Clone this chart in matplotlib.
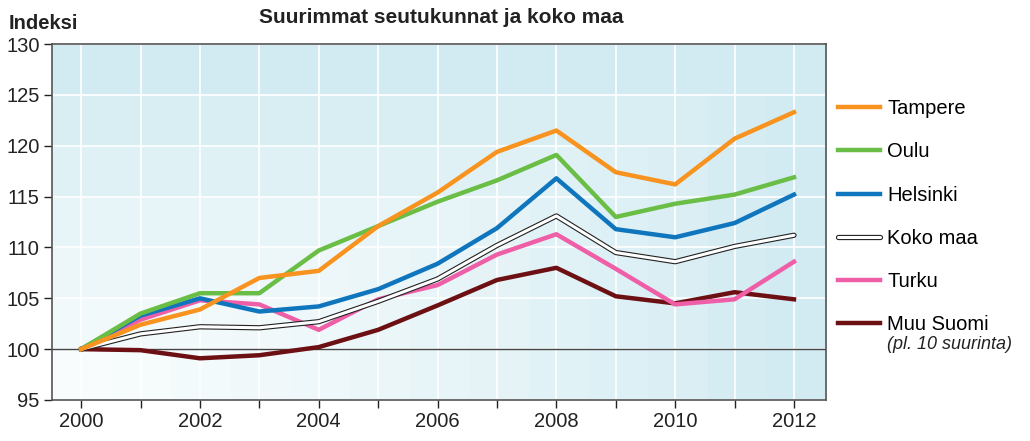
import numpy as np
import matplotlib.pyplot as plt
import matplotlib.patheffects as pe
from matplotlib.colors import LinearSegmentedColormap

plt.rcParams['font.family'] = ['Liberation Sans', 'DejaVu Sans']

years = np.arange(2000, 2013)
tampere = [100, 102.4, 103.9, 107.0, 107.7, 112.1, 115.4, 119.4, 121.5, 117.4, 116.2, 120.7, 123.3]
oulu = [100, 103.5, 105.5, 105.5, 109.7, 112.1, 114.5, 116.6, 119.1, 113.0, 114.3, 115.2, 116.9]
helsinki = [100, 103.3, 105.0, 103.7, 104.2, 105.9, 108.4, 111.9, 116.8, 111.8, 111.0, 112.4, 115.2]
koko_maa = [100, 101.5, 102.2, 102.1, 102.7, 104.7, 106.9, 110.2, 113.1, 109.5, 108.6, 110.1, 111.2]
turku = [100, 102.9, 104.8, 104.4, 101.9, 104.9, 106.3, 109.3, 111.3, 107.9, 104.4, 104.9, 108.6]
muu_suomi = [100, 99.9, 99.1, 99.4, 100.2, 101.9, 104.3, 106.8, 108.0, 105.2, 104.5, 105.6, 104.9]

fig = plt.figure(figsize=(10.30, 4.41), dpi=100)
ax = fig.add_axes([0.0505, 0.093, 0.7515, 0.807])
x0, x1 = 1999.51, 2012.54
ax.set_xlim(x0, x1)
ax.set_ylim(95, 130)

# stepped background gradient, light lower left -> darker upper right
nx, ny = 13, 7
xf = (np.arange(nx) + 0.5) / nx
yf = (np.arange(ny) + 0.5) / ny
XX, YY = np.meshgrid(xf, yf)
val = np.maximum(XX * 1.05, YY * 1.1)
bg = LinearSegmentedColormap.from_list('bg', ['#f8fcfd', '#e8f5f8', '#d2ebf2'])
ax.imshow(val, cmap=bg, extent=[x0, x1, 95, 130], origin='lower', aspect='auto',
          interpolation='nearest', zorder=0)

for yv in range(95, 131, 5):
    ax.axhline(yv, color='white', lw=1.2, zorder=1)
for xv in years:
    ax.axvline(xv, color='white', lw=1.2, zorder=1)
ax.axhline(100, color='#444444', lw=1.0, zorder=2)

ax.plot(years, muu_suomi, color='#6d1014', lw=3.2, zorder=3, label='Muu Suomi')
ax.plot(years, turku, color='#ef5fa7', lw=3.2, zorder=4, label='Turku')
ax.plot(years, koko_maa, color='white', lw=2.2, zorder=5, label='Koko maa',
        solid_capstyle='round',
        path_effects=[pe.Stroke(linewidth=3.8, foreground='#222222'), pe.Normal()])
ax.plot(years, helsinki, color='#0f75bd', lw=3.2, zorder=6, label='Helsinki')
ax.plot(years, oulu, color='#6abd45', lw=3.2, zorder=7, label='Oulu')
ax.plot(years, tampere, color='#f7931e', lw=3.2, zorder=8, label='Tampere')

ax.set_yticks(range(95, 131, 5))
ax.set_xticks(years[::2])
ax.set_xticks(years, minor=True)
ax.tick_params(axis='both', labelsize=14.5, colors='#222222', length=6, width=1, pad=3)
ax.tick_params(axis='x', which='minor', length=6, width=1, colors='#222222')
for sp in ax.spines.values():
    sp.set_color('#555555')
    sp.set_linewidth(1.2)

handles, labels = ax.get_legend_handles_labels()
order = ['Tampere', 'Oulu', 'Helsinki', 'Koko maa', 'Turku', 'Muu Suomi']
hmap = dict(zip(labels, handles))
leg = fig.legend([hmap[k] for k in order], order, loc='upper left',
                 bbox_to_anchor=(0.796, 0.816), frameon=False, fontsize=14.5,
                 handlelength=2.1, handletextpad=0.35, labelspacing=1.2)
fig.text(0.861, 0.208, '(pl. 10 suurinta)', fontsize=13, style='italic', color='#222222')

fig.text(0.008, 0.935, 'Indeksi', fontsize=14.5, fontweight='bold', color='#222222')
fig.text(0.428, 0.948, 'Suurimmat seutukunnat ja koko maa', fontsize=15,
         fontweight='bold', color='#222222', ha='center')

fig.savefig('out.png', dpi=100)
